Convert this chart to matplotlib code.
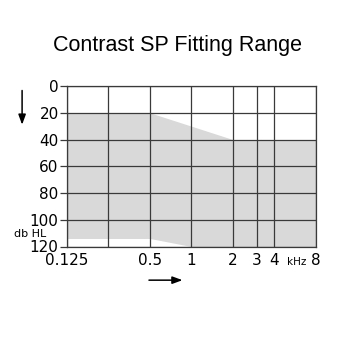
import matplotlib
matplotlib.use("Agg")
import matplotlib.pyplot as plt
import numpy as np

# data
freq_ticks = [0.125, 0.25, 0.5, 1, 2, 3, 4, 8]
freq_labels = ["0.125", "", "0.5", "1", "2", "3", "4", "8"]
db_ticks = [0, 20, 40, 60, 80, 100, 120]
upper_freq = [0.125, 0.5, 2, 8]
upper_db = [20, 20, 40, 40]
lower_freq = [0.125, 0.5, 1, 8]
lower_db = [114, 114, 120, 120]

fig = plt.figure(figsize=(3.4, 3.4), dpi=100)
ax = fig.add_axes([0.197, 0.275, 0.7315, 0.472])
ax.set_xscale("log")
ax.set_xlim(0.125, 8)
ax.set_ylim(120, 0)

f = np.geomspace(0.125, 8, 400)
up = np.interp(np.log(f), np.log(upper_freq), upper_db)
lo = np.interp(np.log(f), np.log(lower_freq), lower_db)
ax.fill_between(f, up, lo, color="#d9d9d9", linewidth=0, zorder=1)

for x in freq_ticks:
    ax.axvline(x, color="#3a3a3a", lw=0.9, zorder=2)
for y in db_ticks:
    ax.axhline(y, color="#3a3a3a", lw=0.9, zorder=2)

ax.set_xticks(freq_ticks)
ax.set_xticklabels(freq_labels)
ax.xaxis.set_minor_locator(matplotlib.ticker.NullLocator())
ax.set_yticks(db_ticks)
ax.tick_params(axis="x", length=0, pad=5, labelsize=11)
ax.tick_params(axis="y", length=5, width=0.9, color="#3a3a3a", pad=1, labelsize=11)
for s in ax.spines.values():
    s.set_color("#3a3a3a")
    s.set_linewidth(0.9)

fig.text(0.523, 0.866, "Contrast SP Fitting Range", ha="center", va="center",
         fontsize=15.5, family="Liberation Sans")
fig.text(0.09, 0.312, "db HL", ha="center", va="center", fontsize=8)
fig.text(0.874, 0.228, "kHz", ha="center", va="center", fontsize=7.5)

fig.patches.append(matplotlib.patches.FancyArrowPatch(
    (0.065, 0.742), (0.065, 0.625), transform=fig.transFigure,
    arrowstyle="-|>,head_length=6,head_width=2.2", color="black", lw=1.1))
fig.patches.append(matplotlib.patches.FancyArrowPatch(
    (0.43, 0.176), (0.545, 0.176), transform=fig.transFigure,
    arrowstyle="-|>,head_length=6,head_width=2.2", color="black", lw=1.1))

fig.savefig("out.png", dpi=100, facecolor="white")
